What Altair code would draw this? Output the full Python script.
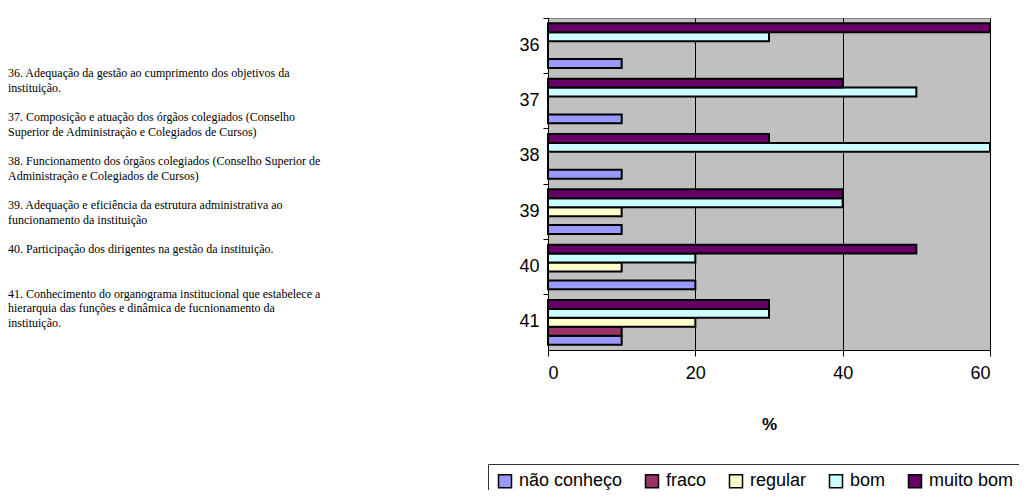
import altair as alt
import pandas as pd

items = ["36", "37", "38", "39", "40", "41"]
series = ["não conheço", "fraco", "regular", "bom", "muito bom"]
colors = ["#9999FF", "#993366", "#FFFFCC", "#CCFFFF", "#660066"]

nao_conheco = [10, 10, 10, 10, 20, 10]
fraco = [0, 0, 0, 0, 0, 10]
regular = [0, 0, 0, 10, 10, 20]
bom = [30, 50, 60, 40, 20, 30]
muito_bom = [60, 40, 30, 40, 50, 30]

x_ticks = [0, 20, 40, 60]

text_blocks = [
    ["36. Adequação da gestão ao cumprimento dos objetivos da",
     "instituição."],
    ["37. Composição e atuação dos órgãos colegiados (Conselho",
     "Superior de Administração e Colegiados de Cursos)"],
    ["38. Funcionamento dos órgãos colegiados (Conselho Superior de",
     "Administração e Colegiados de Cursos)"],
    ["39. Adequação e eficiência da estrutura administrativa ao",
     "funcionamento da instituição"],
    ["40. Participação dos dirigentes na gestão da instituição."],
    ["41. Conhecimento do organograma institucional que estabelece a",
     "hierarquia das funções e dinâmica de fucnionamento da",
     "instituição."],
]
# line index where each block starts (blank lines between blocks)
block_start_line = [0, 3, 6, 9, 12, 15]

rows = []
for s, vals in zip(series, [nao_conheco, fraco, regular, bom, muito_bom]):
    for it, v in zip(items, vals):
        rows.append({"item": it, "serie": s, "value": v})
df = pd.DataFrame(rows)

bars = alt.Chart(df).mark_bar(stroke="black", strokeWidth=2, opacity=1).encode(
    x=alt.X(
        "value:Q",
        scale=alt.Scale(domain=[0, 60], nice=False, zero=True),
        axis=alt.Axis(
            values=x_ticks, title="%", titleFontSize=17, titleFontWeight="bold",
            titleFont="Liberation Sans", titleColor="black", titlePadding=34,
            labelFont="Liberation Sans", labelFontSize=18, labelColor="black",
            labelPadding=8, tickSize=6, tickColor="black", domainColor="black",
            grid=True, gridColor="black", gridWidth=1,
        ),
    ),
    y=alt.Y(
        "item:N", sort=items,
        scale=alt.Scale(paddingInner=0, paddingOuter=0),
        axis=alt.Axis(
            title=None, labelFont="Liberation Sans", labelFontSize=18,
            labelColor="black", labelPadding=4, tickSize=5, tickColor="black",
            domainColor="black", bandPosition=0, grid=False,
        ),
    ),
    yOffset=alt.YOffset(
        "serie:N", sort=series[::-1],
        scale=alt.Scale(paddingInner=0, paddingOuter=0.6),
    ),
    color=alt.Color(
        "serie:N",
        scale=alt.Scale(domain=series, range=colors),
        legend=alt.Legend(
            title=None, orient="none", legendX=-60, legendY=446,
            direction="horizontal", columns=5, symbolType="square",
            symbolSize=169, symbolStrokeColor="black", symbolStrokeWidth=1.5,
            symbolOpacity=1, labelFont="Liberation Sans", labelFontSize=18,
            labelColor="black", labelOffset=5, columnPadding=19,
            strokeColor="#333333", fillColor="white", padding=8,
        ),
    ),
)

LINE_H = 14.7
TEXT_TOP = 50
layers = [bars]
for block, start in zip(text_blocks, block_start_line):
    layers.append(
        alt.Chart(pd.DataFrame({"k": [0]})).mark_text(
            text=block, align="left", baseline="top", font="Liberation Serif",
            fontSize=12, lineHeight=LINE_H, color="black",
        ).encode(x=alt.value(-540), y=alt.value(TEXT_TOP + start * LINE_H))
    )

chart = alt.layer(*layers).properties(
    width=442, height=332,
    autosize=alt.AutoSizeParams(type="none"),
    padding={"left": 540, "top": 10, "right": 29, "bottom": 140},
).configure_view(fill="#C0C0C0", stroke="#808080", strokeWidth=1)

chart.save("out.html", embed_options={"renderer": "svg", "actions": False})
